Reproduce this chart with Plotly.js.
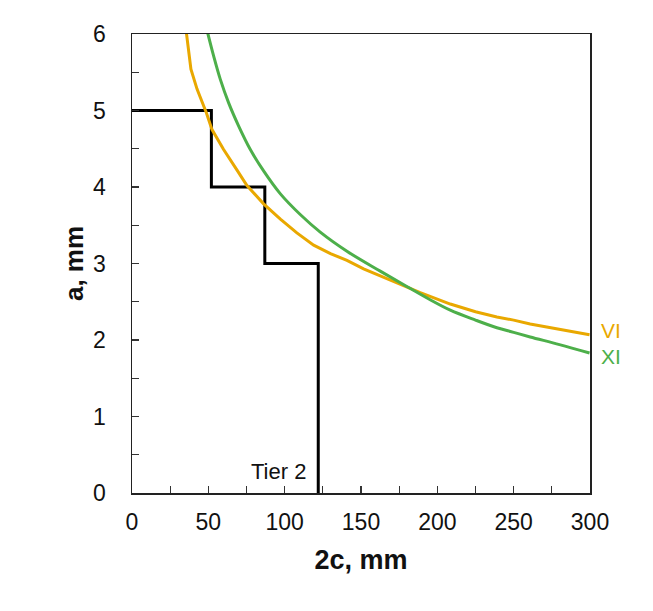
<!DOCTYPE html>
<html>
<head>
<meta charset="utf-8">
<script src="https://cdn.plot.ly/plotly-3.0.1.min.js"></script>
<style>html,body{margin:0;padding:0;background:#fff;}#chart{width:653px;height:611px;}</style>
</head>
<body>
<div id="chart"></div>
<script>
// Tier 2 step boundary
var tierX = [0, 52, 87, 122];
var tierY = [5, 4, 3, 0];

// Curve VI (orange)
var viX = [35.6, 38.6, 42.6, 48.7, 52.4, 60, 68.8, 75.3, 86.2, 97.2, 108, 119, 130, 140.8, 151.7, 162.6, 180, 188.8, 208.5, 225, 239, 250, 260.8, 280, 299.7];
var viY = [6.02, 5.54, 5.28, 4.97, 4.75, 4.49, 4.22, 4.02, 3.78, 3.58, 3.40, 3.24, 3.13, 3.04, 2.93, 2.84, 2.69, 2.62, 2.47, 2.37, 2.30, 2.26, 2.21, 2.14, 2.07];

// Curve XI (green)
var xiX = [49.5, 53.5, 57.8, 63.3, 69.8, 77.5, 86.2, 97.2, 110.2, 123.3, 140.8, 162.6, 180, 195, 208.5, 225, 239, 250, 260.8, 280, 299.7];
var xiY = [6.02, 5.71, 5.41, 5.10, 4.80, 4.49, 4.21, 3.91, 3.64, 3.41, 3.16, 2.90, 2.70, 2.53, 2.39, 2.26, 2.16, 2.10, 2.04, 1.94, 1.83];

var xTicks = [0, 50, 100, 150, 200, 250, 300];
var yTicks = [0, 1, 2, 3, 4, 5, 6];

var orange = '#E9A800';
var green = '#4DAF4A';
var font = 'Liberation Sans, Arial, Helvetica, sans-serif';

var traces = [
  {x: tierX, y: tierY, mode: 'lines', line: {color: '#000', width: 3, shape: 'hv'}, hoverinfo: 'skip'},
  {x: viX, y: viY, mode: 'lines', line: {color: orange, width: 3}},
  {x: xiX, y: xiY, mode: 'lines', line: {color: green, width: 3, shape: 'spline', smoothing: 1}}
];

var layout = {
  width: 653, height: 611,
  margin: {l: 132, r: 63, t: 34, b: 118},
  paper_bgcolor: '#fff', plot_bgcolor: '#fff',
  showlegend: false,
  font: {family: font, size: 23, color: '#111'},
  xaxis: {
    range: [0, 300], tickvals: xTicks, ticktext: xTicks.map(String),
    ticks: 'inside', ticklen: 7, tickwidth: 1.2, tickcolor: '#333',
    minor: {dtick: 25, ticks: 'inside', ticklen: 7, tickwidth: 1.2, tickcolor: '#333'},
    showline: true, linecolor: '#222', linewidth: 1.5, mirror: true,
    showgrid: false, zeroline: false, ticklabelstandoff: 8,
    tickfont: {family: font, size: 23, color: '#111'},
    title: {text: '<b>2c, mm</b>', font: {family: font, size: 27, color: '#111'}, standoff: 16}
  },
  yaxis: {
    range: [0, 6], tickvals: yTicks, ticktext: yTicks.map(String),
    ticks: 'inside', ticklen: 7, tickwidth: 1.2, tickcolor: '#333',
    minor: {dtick: 0.5, ticks: 'inside', ticklen: 7, tickwidth: 1.2, tickcolor: '#333'},
    showline: true, linecolor: '#222', linewidth: 1.5, mirror: true,
    showgrid: false, zeroline: false, ticklabelstandoff: 20,
    tickfont: {family: font, size: 23, color: '#111'},
    title: {text: '<b>a, mm</b>', font: {family: font, size: 26, color: '#111'}, standoff: 2}
  },
  annotations: [
    {x: 122, y: 0.28, xref: 'x', yref: 'y', text: 'Tier 2', showarrow: false, xanchor: 'right', xshift: -10,
     font: {family: font, size: 22, color: '#111'}},
    {x: 1, y: 2.12, xref: 'paper', yref: 'y', text: 'VI', showarrow: false, xanchor: 'left', xshift: 9,
     font: {family: font, size: 21, color: orange}},
    {x: 1, y: 1.79, xref: 'paper', yref: 'y', text: 'XI', showarrow: false, xanchor: 'left', xshift: 9,
     font: {family: font, size: 21, color: green}}
  ]
};

Plotly.newPlot('chart', traces, layout, {displayModeBar: false, staticPlot: true});
</script>
</body>
</html>
